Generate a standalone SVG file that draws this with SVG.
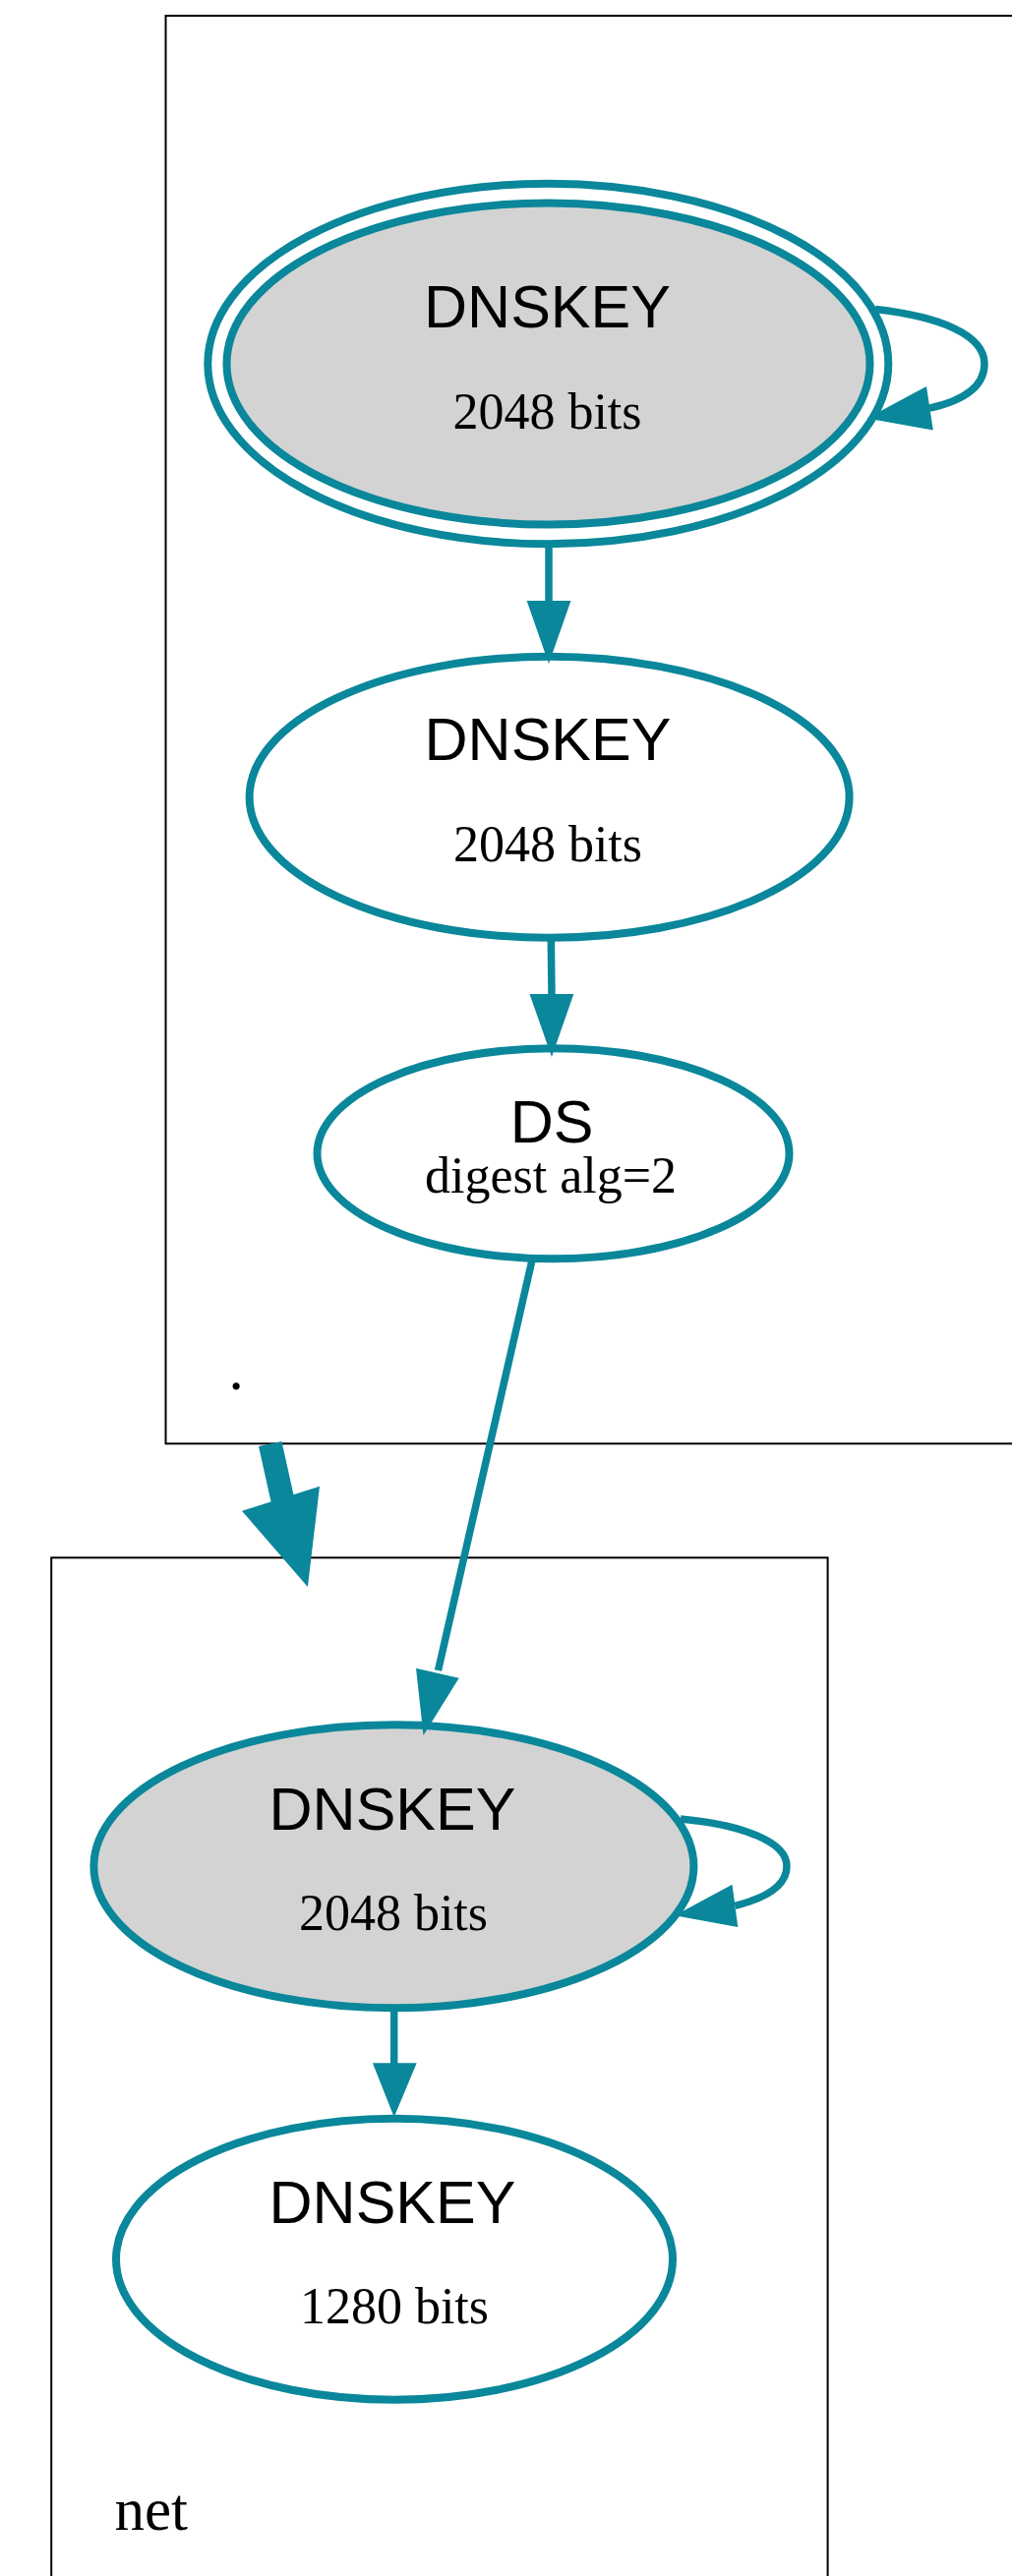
<svg xmlns="http://www.w3.org/2000/svg" width="1029" height="2620" viewBox="0 0 1029 2620">
  <style>
    .cluster { fill: #ffffff; stroke: #000000; stroke-width: 2; }
    .clabel { font-family: "Liberation Serif", "Times New Roman", serif; font-size: 61px; fill: #000000; }
    .node { stroke: #0a879a; stroke-width: 8; }
    .ksk { fill: #d3d3d3; }
    .zsk { fill: #ffffff; }
    .title { font-family: "Liberation Sans", Arial, sans-serif; font-size: 61px; fill: #000000; text-anchor: middle; }
    .sub { font-family: "Liberation Serif", "Times New Roman", serif; font-size: 52px; fill: #000000; text-anchor: middle; }
    .edge { fill: none; stroke: #0a879a; stroke-width: 7.5; }
    .head { fill: #0a879a; stroke: none; }
  </style>

  <rect width="1029" height="2620" fill="#ffffff"/>

  <!-- zone clusters -->
  <g id="cluster_root">
    <rect class="cluster" x="168.5" y="16" width="880" height="1452.3"/>
    <text class="clabel" x="232.5" y="1413">.</text>
  </g>
  <g id="cluster_net">
    <rect class="cluster" x="52.2" y="1584.3" width="789.4" height="1043.7"/>
    <text class="clabel" x="116.5" y="2573">net</text>
  </g>

  <!-- root zone nodes -->
  <g id="root_dnskey_ksk">
    <ellipse class="node" fill="none" cx="557.3" cy="370" rx="346" ry="183.3"/>
    <ellipse class="node ksk" cx="557.5" cy="370" rx="327" ry="163.5"/>
    <text class="title" x="556.5" y="333">DNSKEY</text>
    <text class="sub" x="556.5" y="436.3">2048 bits</text>
  </g>
  <g id="root_dnskey_zsk">
    <ellipse class="node zsk" cx="558.6" cy="810.8" rx="305" ry="143"/>
    <text class="title" x="557" y="772.7">DNSKEY</text>
    <text class="sub" x="557" y="876">2048 bits</text>
  </g>
  <g id="root_ds_net">
    <ellipse class="node zsk" cx="562.5" cy="1173.3" rx="240" ry="107"/>
    <text class="title" x="561" y="1161.7">DS</text>
    <text class="sub" x="560" y="1213.3">digest alg=2</text>
  </g>

  <!-- net zone nodes -->
  <g id="net_dnskey_ksk">
    <ellipse class="node ksk" cx="400.4" cy="1898.3" rx="305" ry="144"/>
    <text class="title" x="399" y="1861">DNSKEY</text>
    <text class="sub" x="400" y="1963.3">2048 bits</text>
  </g>
  <g id="net_dnskey_zsk">
    <ellipse class="node zsk" cx="401" cy="2297.8" rx="283" ry="143"/>
    <text class="title" x="399" y="2261">DNSKEY</text>
    <text class="sub" x="401" y="2363.3">1280 bits</text>
  </g>

  <!-- connectors -->
  <g id="edges">
    <!-- root KSK self-signature -->
    <path class="edge" d="M890,314.6 C955,322 1001,340 1001,370 C1001,392 982,407 945,415.2"/>
    <polygon class="head" points="881.5,425.6 942,393 948.8,437.4"/>

    <!-- root KSK signs ZSK -->
    <path class="edge" d="M558,553 L558,612"/>
    <polygon class="head" points="535.6,611 580.5,611 558,675"/>

    <!-- root ZSK signs DS -->
    <path class="edge" d="M560.3,954 L561,1012"/>
    <polygon class="head" points="538.5,1011 583.3,1011 561,1075"/>

    <!-- DS points to net KSK -->
    <path class="edge" d="M540.7,1283 L445.5,1699"/>
    <polygon class="head" points="423,1696.7 466.7,1706.7 430.5,1765"/>

    <!-- delegation root -> net -->
    <path fill="none" stroke="#0a879a" stroke-width="24" d="M274.7,1468.5 L287.5,1526"/>
    <polygon class="head" points="246,1536.7 325,1511.7 312.9,1614"/>

    <!-- net KSK self-signature -->
    <path class="edge" d="M692,1850 C755,1856 800,1873 800,1898 C800,1915 785,1929 747.4,1938.3"/>
    <polygon class="head" points="686,1948.3 744.5,1916.7 750.3,1960"/>

    <!-- net KSK signs ZSK -->
    <path class="edge" d="M400.7,2042 L400.7,2099"/>
    <polygon class="head" points="378.9,2098.3 423.7,2098.3 400.7,2153.3"/>
  </g>
</svg>
